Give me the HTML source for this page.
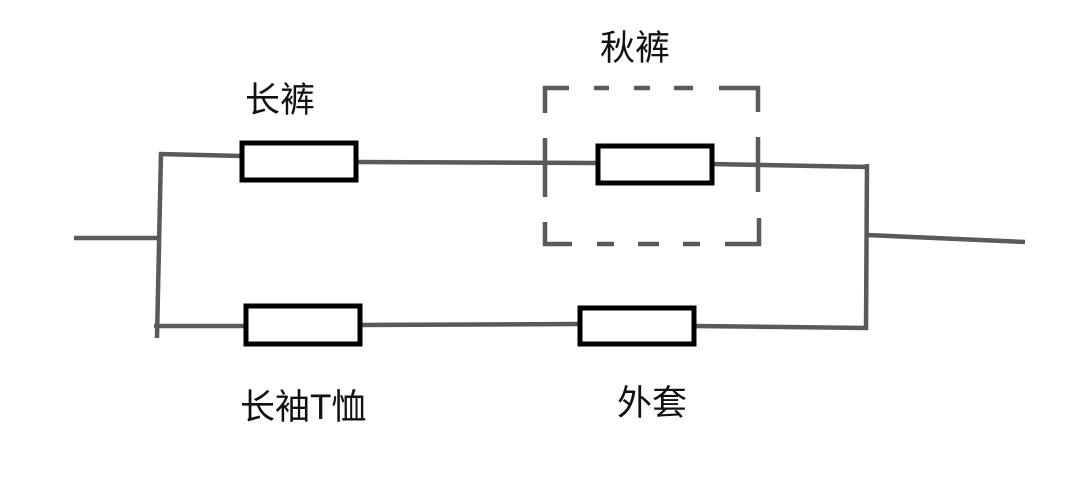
<!DOCTYPE html>
<html><head><meta charset="utf-8"><style>
html,body{margin:0;padding:0;background:#fff;}
svg{display:block;}
text{font-family:"Liberation Sans","Noto Sans CJK SC",sans-serif;font-size:35px;fill:#111;}
</style></head><body>
<svg width="1080" height="485" viewBox="0 0 1080 485" xmlns="http://www.w3.org/2000/svg">
<rect width="1080" height="485" fill="#fff"/>
<g stroke="#5a5a5a" stroke-width="4.5" fill="none" stroke-linecap="butt">
  <line x1="74" y1="238" x2="159" y2="238"/>
  <line x1="161" y1="153" x2="157" y2="338"/>
  <line x1="159" y1="154" x2="242" y2="156"/>
  <line x1="358" y1="162" x2="598" y2="163"/>
  <line x1="712" y1="164" x2="869" y2="167"/>
  <line x1="154" y1="326" x2="246" y2="326"/>
  <line x1="360" y1="325" x2="580" y2="324"/>
  <line x1="694" y1="326" x2="868" y2="328"/>
  <line x1="867" y1="164" x2="866" y2="330"/>
  <line x1="866" y1="235" x2="1025" y2="242"/>
  <polyline points="545,113 545,88 569,88"/>
  <line x1="594" y1="88" x2="609" y2="88"/>
  <line x1="634" y1="88" x2="650" y2="88"/>
  <line x1="674" y1="88" x2="693" y2="88"/>
  <polyline points="719,88 758,88 758,112"/>
  <line x1="545" y1="138" x2="545" y2="197"/>
  <line x1="758" y1="137" x2="758" y2="192"/>
  <polyline points="545,222 545,244 572,244"/>
  <line x1="597" y1="244" x2="614" y2="244"/>
  <line x1="638" y1="244" x2="659" y2="244"/>
  <line x1="683" y1="244" x2="700" y2="244"/>
  <polyline points="725,244 759,244 759,218"/>
</g>
<g stroke="#000" stroke-width="5" fill="#fff">
  <rect x="242" y="143" width="114" height="37"/>
  <rect x="246" y="306" width="114" height="38"/>
  <rect x="598" y="146" width="114" height="37"/>
  <rect x="580" y="308" width="114" height="36"/>
</g>
<text x="245" y="112">长裤</text>
<text x="600" y="60">秋裤</text>
<text x="240" y="419">长袖T恤</text>
<text x="617" y="415">外套</text>
</svg>
</body></html>
